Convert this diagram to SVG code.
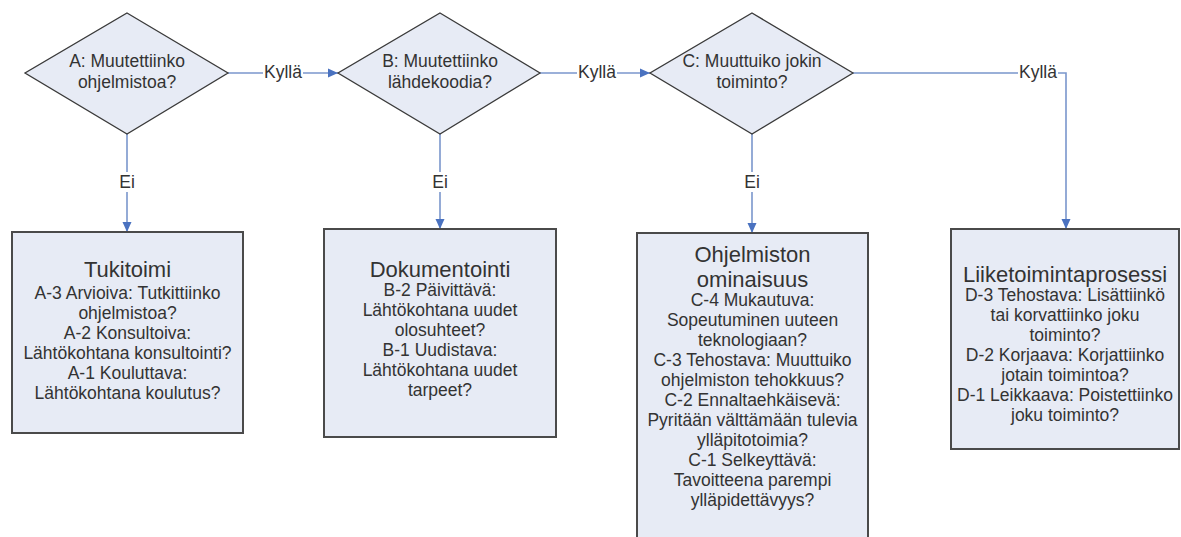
<svg xmlns="http://www.w3.org/2000/svg" width="1181" height="537" viewBox="0 0 1181 537">
  <style>
    .shape { fill: #e7ebf5; stroke: #3a3a3a; stroke-width: 1.3; }
    .box { fill: #e7ebf5; stroke: #4a4a4a; stroke-width: 2; }
    .txt { font-family: "Liberation Sans", Arial, sans-serif; font-size: 17.5px; fill: #333; text-anchor: middle; }
    .title { font-size: 22px; }
    .conn { fill: none; stroke: #7a96cc; stroke-width: 1.6; }
    .lblbg { fill: #ffffff; }
  </style>
  <defs>
    <marker id="arrow" markerUnits="userSpaceOnUse" markerWidth="10" markerHeight="10" viewBox="0 0 10 10" refX="10" refY="5" orient="auto">
      <path d="M0,0.5 L10,5 L0,9.5 Z" fill="#4a72c0"/>
    </marker>
  </defs>
  <rect width="1181" height="537" fill="#ffffff"/>

  <!-- connectors -->
  <g id="connectors">
    <path class="conn" d="M228,73 H338" marker-end="url(#arrow)"/>
    <path class="conn" d="M540,73 H650" marker-end="url(#arrow)"/>
    <path class="conn" d="M853,73 H1066 V229" marker-end="url(#arrow)"/>
    <path class="conn" d="M127,134 V232" marker-end="url(#arrow)"/>
    <path class="conn" d="M440,134 V229" marker-end="url(#arrow)"/>
    <path class="conn" d="M752,134 V233" marker-end="url(#arrow)"/>

    <rect class="lblbg" x="263" y="63" width="40" height="20"/>
    <text class="txt" x="283" y="78">Kyllä</text>
    <rect class="lblbg" x="577" y="63" width="40" height="20"/>
    <text class="txt" x="597" y="78">Kyllä</text>
    <rect class="lblbg" x="1018" y="63" width="40" height="20"/>
    <text class="txt" x="1038" y="78">Kyllä</text>

    <rect class="lblbg" x="118" y="172" width="18" height="20"/>
    <text class="txt" x="127" y="188">Ei</text>
    <rect class="lblbg" x="431" y="172" width="18" height="20"/>
    <text class="txt" x="440" y="188">Ei</text>
    <rect class="lblbg" x="743" y="172" width="18" height="20"/>
    <text class="txt" x="752" y="188">Ei</text>
  </g>

  <!-- decisions -->
  <g id="decisionA">
    <polygon class="shape" points="127,13 228,73 127,134 25,73"/>
    <text class="txt" x="127" y="67">A: Muutettiinko</text>
    <text class="txt" x="127" y="88">ohjelmistoa?</text>
  </g>
  <g id="decisionB">
    <polygon class="shape" points="440,13 540,73 440,134 338,73"/>
    <text class="txt" x="440" y="67">B: Muutettiinko</text>
    <text class="txt" x="440" y="88">lähdekoodia?</text>
  </g>
  <g id="decisionC">
    <polygon class="shape" points="752,13 853,73 752,134 650,73"/>
    <text class="txt" x="752" y="67">C: Muuttuiko jokin</text>
    <text class="txt" x="752" y="88">toiminto?</text>
  </g>

  <!-- outcomes -->
  <g id="boxA">
    <rect class="box" x="12" y="232" width="231" height="201"/>
    <text class="txt title" x="127.5" y="277">Tukitoimi</text>
    <text class="txt" x="127.5" y="299">A-3 Arvioiva: Tutkittiinko</text>
    <text class="txt" x="127.5" y="319">ohjelmistoa?</text>
    <text class="txt" x="127.5" y="339">A-2 Konsultoiva:</text>
    <text class="txt" x="127.5" y="359">Lähtökohtana konsultointi?</text>
    <text class="txt" x="127.5" y="379">A-1 Kouluttava:</text>
    <text class="txt" x="127.5" y="399">Lähtökohtana koulutus?</text>
  </g>
  <g id="boxB">
    <rect class="box" x="324" y="229" width="232" height="208"/>
    <text class="txt title" x="440" y="277">Dokumentointi</text>
    <text class="txt" x="440" y="296">B-2 Päivittävä:</text>
    <text class="txt" x="440" y="316">Lähtökohtana uudet</text>
    <text class="txt" x="440" y="336">olosuhteet?</text>
    <text class="txt" x="440" y="356">B-1 Uudistava:</text>
    <text class="txt" x="440" y="376">Lähtökohtana uudet</text>
    <text class="txt" x="440" y="396">tarpeet?</text>
  </g>
  <g id="boxC">
    <rect class="box" x="637" y="233" width="231" height="310"/>
    <text class="txt title" x="752.5" y="262">Ohjelmiston</text>
    <text class="txt title" x="752.5" y="287">ominaisuus</text>
    <text class="txt" x="752.5" y="306">C-4 Mukautuva:</text>
    <text class="txt" x="752.5" y="326">Sopeutuminen uuteen</text>
    <text class="txt" x="752.5" y="346">teknologiaan?</text>
    <text class="txt" x="752.5" y="366">C-3 Tehostava: Muuttuiko</text>
    <text class="txt" x="752.5" y="386">ohjelmiston tehokkuus?</text>
    <text class="txt" x="752.5" y="406">C-2 Ennaltaehkäisevä:</text>
    <text class="txt" x="752.5" y="426">Pyritään välttämään tulevia</text>
    <text class="txt" x="752.5" y="446">ylläpitotoimia?</text>
    <text class="txt" x="752.5" y="466">C-1 Selkeyttävä:</text>
    <text class="txt" x="752.5" y="486">Tavoitteena parempi</text>
    <text class="txt" x="752.5" y="506">ylläpidettävyys?</text>
  </g>
  <g id="boxD">
    <rect class="box" x="951" y="229" width="228" height="220"/>
    <text class="txt title" x="1065" y="282">Liiketoimintaprosessi</text>
    <text class="txt" x="1065" y="301">D-3 Tehostava: Lisättiinkö</text>
    <text class="txt" x="1065" y="321">tai korvattiinko joku</text>
    <text class="txt" x="1065" y="341">toiminto?</text>
    <text class="txt" x="1065" y="361">D-2 Korjaava: Korjattiinko</text>
    <text class="txt" x="1065" y="381">jotain toimintoa?</text>
    <text class="txt" x="1065" y="401">D-1 Leikkaava: Poistettiinko</text>
    <text class="txt" x="1065" y="421">joku toiminto?</text>
  </g>
</svg>
